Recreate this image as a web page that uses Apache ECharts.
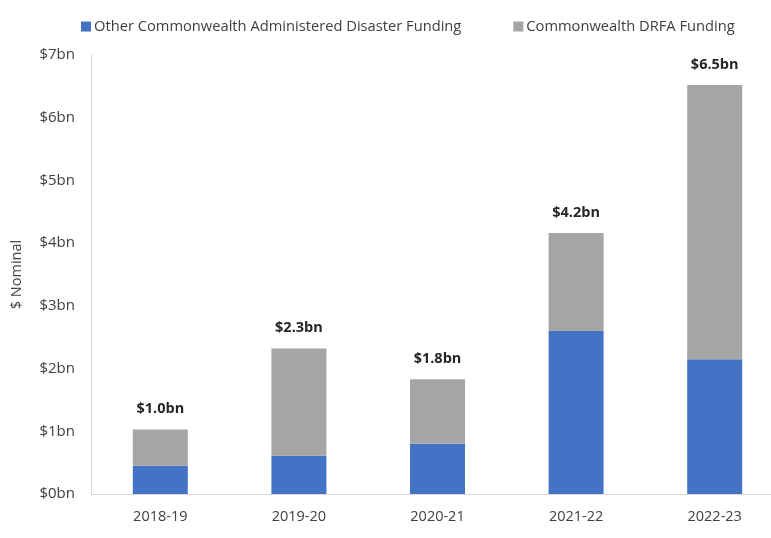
<!DOCTYPE html>
<html>
<head>
<meta charset="utf-8">
<script src="https://cdn.jsdelivr.net/npm/echarts@6/dist/echarts.min.js"></script>
<style>html,body{margin:0;padding:0;background:#fff;}#c{width:771px;height:538px;}</style>
</head>
<body>
<div id="c"></div>
<script>
const categories = ['2018-19', '2019-20', '2020-21', '2021-22', '2022-23'];
const otherFunding = [0.45, 0.61, 0.80, 2.60, 2.15];
const drfaFunding = [0.58, 1.71, 1.03, 1.56, 4.37];
const yTicks = ['$0bn', '$1bn', '$2bn', '$3bn', '$4bn', '$5bn', '$6bn', '$7bn'];

const totals = categories.map((c, i) => otherFunding[i] + drfaFunding[i]);
const font = 'Open Sans';
const chart = echarts.init(document.getElementById('c'));
chart.setOption({
  animation: false,
  textStyle: { fontFamily: font },
  legend: {
    top: 14,
    left: 76,
    itemWidth: 10,
    itemHeight: 10,
    itemGap: 52,
    itemStyle: { borderWidth: 0 },
    icon: 'rect',
    textStyle: { fontFamily: font, fontSize: 14.7, color: '#404040', padding: [0, 0, 0, -2] },
    data: ['Other Commonwealth Administered Disaster Funding', 'Commonwealth DRFA Funding']
  },
  grid: { left: 91, top: 55, width: 693, height: 439, containLabel: false, outerBoundsMode: 'none' },
  xAxis: {
    type: 'category',
    data: categories,
    axisLine: { lineStyle: { color: '#d9d9d9', width: 1 } },
    axisTick: { show: false },
    axisLabel: { color: '#404040', fontSize: 14.5, margin: 15, fontFamily: font }
  },
  yAxis: {
    type: 'value',
    min: 0, max: 7, interval: 1,
    name: '$ Nominal',
    nameLocation: 'middle',
    nameGap: 67,
    nameTextStyle: { color: '#404040', fontSize: 14.5, fontFamily: font },
    axisLine: { show: true, lineStyle: { color: '#d9d9d9', width: 1 } },
    axisTick: { show: false },
    splitLine: { show: false },
    axisLabel: {
      color: '#404040', fontSize: 15, margin: 16, fontFamily: font,
      formatter: (v) => yTicks[Math.round(v)]
    }
  },
  series: [
    {
      name: 'Other Commonwealth Administered Disaster Funding',
      type: 'bar', stack: 'total', barWidth: 55,
      itemStyle: { color: '#4472C4' },
      data: otherFunding
    },
    {
      name: 'Commonwealth DRFA Funding',
      type: 'bar', stack: 'total', barWidth: 55,
      itemStyle: { color: '#A5A5A5' },
      label: {
        show: true, position: 'top', distance: 13,
        fontFamily: font, fontSize: 14.5, fontWeight: 'bold', color: '#262626',
        formatter: (p) => '$' + totals[p.dataIndex].toFixed(1) + 'bn'
      },
      data: drfaFunding
    }
  ]
});
</script>
</body>
</html>
